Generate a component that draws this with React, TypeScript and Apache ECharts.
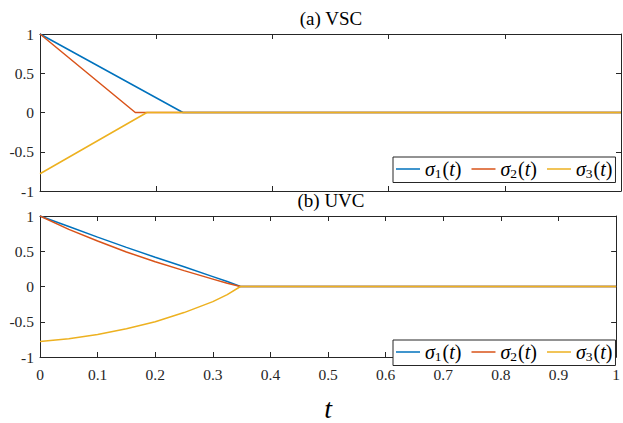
import React, { useEffect, useRef } from "react";
import * as echarts from "echarts";

// (a) VSC
const tVSC1 = [0, 0.246, 1];
const sigma1VSC = [1, 0, 0];
const tVSC2 = [0, 0.164, 1];
const sigma2VSC = [1, 0, 0];
const tVSC3 = [0, 0.184, 1];
const sigma3VSC = [-0.78, 0, 0];

// (b) UVC
const tUVC = [0, 0.05, 0.1, 0.15, 0.2, 0.25, 0.3, 0.325, 0.348, 1];
const sigma1UVC = [1, 0.85, 0.7, 0.555, 0.415, 0.28, 0.14, 0.07, 0, 0];
const sigma2UVC = [1, 0.81, 0.645, 0.49, 0.35, 0.225, 0.105, 0.045, 0, 0];
const sigma3UVC = [-0.78, -0.74, -0.68, -0.6, -0.5, -0.37, -0.215, -0.115, 0, 0];

const seriesNames = ["s1", "s2", "s3"];
const colors = ["#0072BD", "#D95319", "#EDB120"];
const titles = ["(a) VSC", "(b) UVC"];
const xLabel = "t";

const FONT = "Liberation Serif";
const AXIS = "#262626";

const zip = (xs: number[], ys: number[]) => xs.map((x, i) => [x, ys[i]]);

export default function App() {
  const ref = useRef<HTMLDivElement>(null);
  useEffect(() => {
    if (!ref.current) return;
    const chart = echarts.init(ref.current, undefined, { renderer: "svg" });
    const gridTops = [34, 216];
    const gridH = 157;
    const baseAxis = {
      axisLine: { show: true, onZero: false, lineStyle: { color: AXIS, width: 1 } },
      axisTick: { show: true, inside: true, length: 5, lineStyle: { color: AXIS } },
      splitLine: { show: false },
    };
    const xAxes: any[] = [];
    const yAxes: any[] = [];
    [0, 1].forEach((g) => {
      const xInt = g === 0 ? 0.2 : 0.1;
      xAxes.push({
        ...baseAxis,
        type: "value",
        gridIndex: g,
        position: "bottom",
        min: 0,
        max: 1,
        interval: xInt,
        axisLabel: {
          show: g === 1,
          fontFamily: FONT,
          fontSize: 15.5,
          color: AXIS,
          margin: 9,
          formatter: (v: number) => String(Math.round(v * 10) / 10),
        },
        name: g === 1 ? xLabel : "",
        nameLocation: "middle",
        nameGap: 37,
        nameTextStyle: { fontFamily: FONT, fontStyle: "italic", fontSize: 28, color: "#000" },
      });
      xAxes.push({
        ...baseAxis,
        type: "value",
        gridIndex: g,
        position: "top",
        min: 0,
        max: 1,
        interval: xInt,
        axisLabel: { show: false },
      });
      yAxes.push({
        ...baseAxis,
        type: "value",
        gridIndex: g,
        position: "left",
        min: -1,
        max: 1,
        interval: 0.5,
        axisLabel: {
          fontFamily: FONT,
          fontSize: 15.5,
          color: AXIS,
          margin: 6,
          formatter: (v: number) => String(v),
        },
      });
      yAxes.push({
        ...baseAxis,
        type: "value",
        gridIndex: g,
        position: "right",
        min: -1,
        max: 1,
        interval: 0.5,
        axisLabel: { show: false },
      });
    });

    const vsc = [zip(tVSC1, sigma1VSC), zip(tVSC2, sigma2VSC), zip(tVSC3, sigma3VSC)];
    const uvc = [zip(tUVC, sigma1UVC), zip(tUVC, sigma2UVC), zip(tUVC, sigma3UVC)];
    const mk = (data: number[][], i: number, g: number) => ({
      type: "line",
      name: seriesNames[i],
      xAxisIndex: g * 2,
      yAxisIndex: g * 2,
      data,
      symbol: "none",
      showSymbol: false,
      smooth: false,
      color: colors[i],
      lineStyle: { color: colors[i], width: 1.5 },
      z: 2 + i,
    });
    const series = [
      ...vsc.map((d, i) => mk(d, i, 0)),
      ...uvc.map((d, i) => mk(d, i, 1)),
    ];

    const legendBase = (top: number) => ({
      left: 393,
      top,
      orient: "horizontal",
      data: seriesNames,
      selectedMode: false,
      icon: "rect",
      itemWidth: 24,
      itemHeight: 1.5,
      itemGap: 10,
      padding: [2, 3, 2, 3],
      borderColor: AXIS,
      borderWidth: 1,
      backgroundColor: "#ffffff",
      formatter: (name: string) => `{i|σ}{s|${name.slice(1)}}{n|(}{i|t}{n|)}`,
      textStyle: {
        color: "#000",
        rich: {
          i: { fontFamily: FONT, fontStyle: "italic", fontSize: 20, color: "#000" },
          n: { fontFamily: FONT, fontSize: 20, color: "#000" },
          s: { fontFamily: FONT, fontSize: 13.5, color: "#000", padding: [9, 1, 0, 0] },
        },
      },
    });

    chart.setOption({
      animation: false,
      backgroundColor: "#ffffff",
      textStyle: { fontFamily: FONT },
      grid: gridTops.map((t) => ({ left: 40, top: t, width: 581, height: gridH, containLabel: false })),
      xAxis: xAxes,
      yAxis: yAxes,
      legend: [legendBase(157), legendBase(340)],
      graphic: titles.map((txt, i) => ({
        type: "text",
        x: 331,
        y: i === 0 ? 18 : 200,
        style: {
          text: txt,
          textAlign: "center",
          textVerticalAlign: "middle",
          fontFamily: FONT,
          fontSize: 19,
          fill: "#000",
        },
      })),
      series,
    });
    return () => chart.dispose();
  }, []);
  return (
    <div
      ref={ref}
      style={{ position: "fixed", left: 0, top: 0, width: 623, height: 423, background: "#fff" }}
    />
  );
}
